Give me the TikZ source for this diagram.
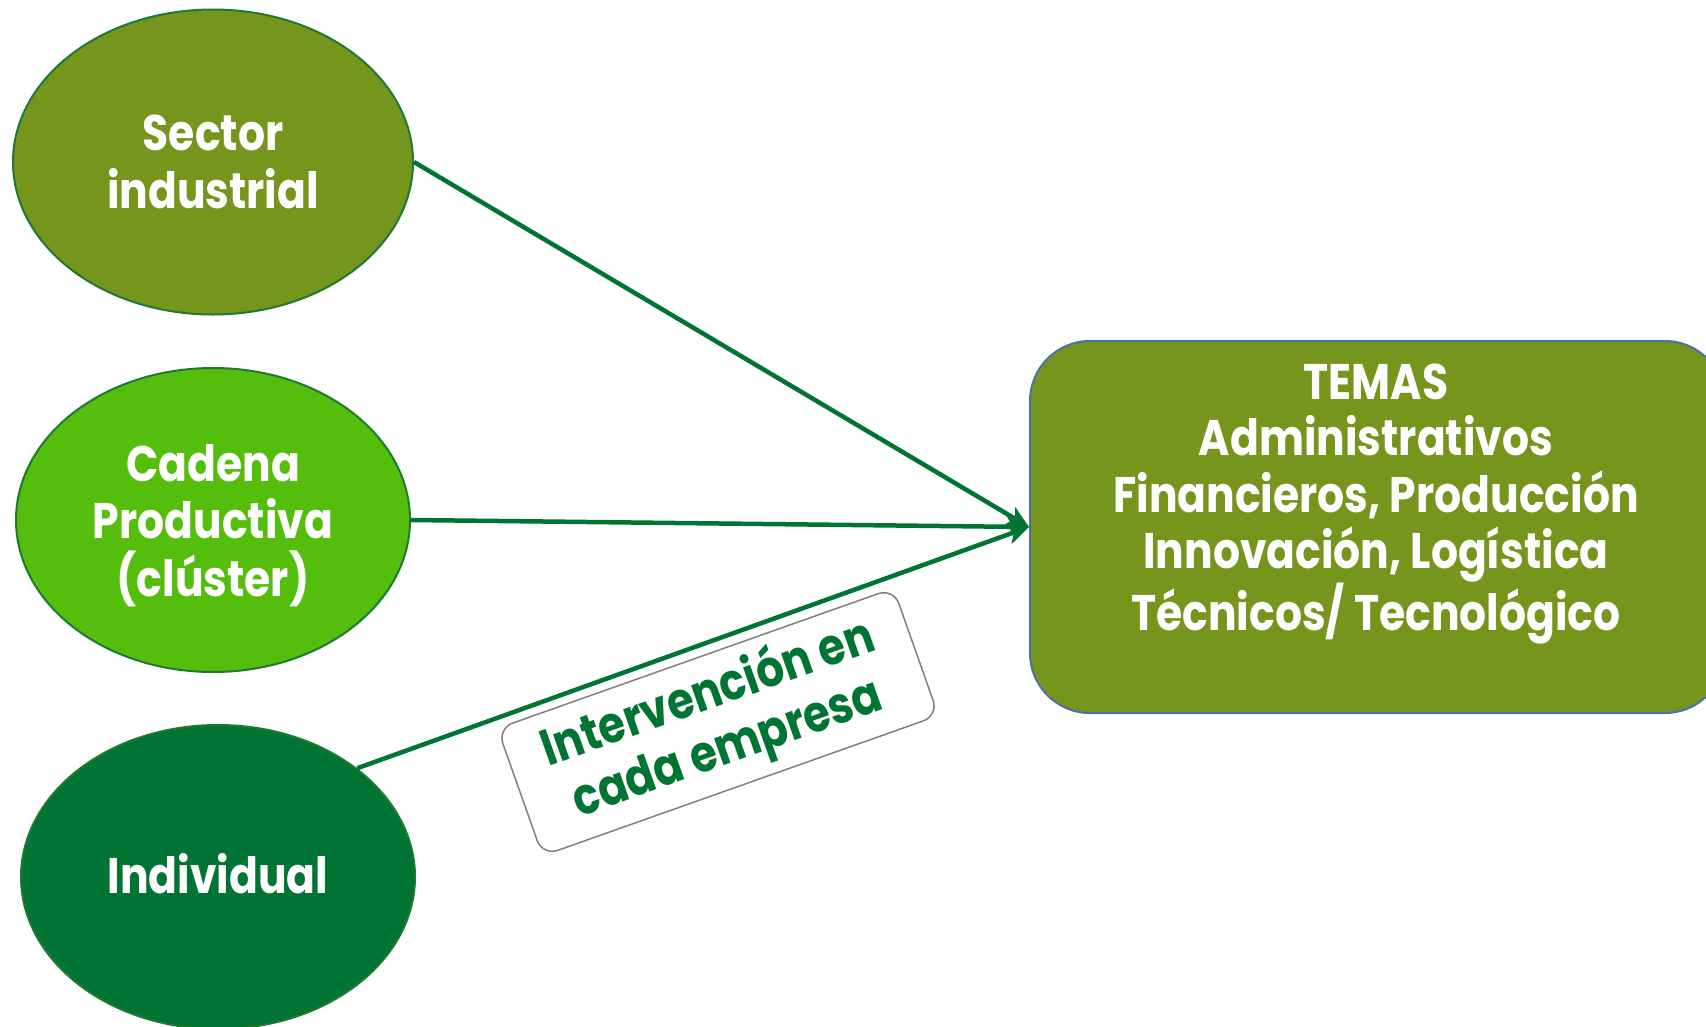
\documentclass[tikz,border=0pt]{standalone}
\usepackage{fontspec}
\setmainfont[FakeStretch=0.85]{Poppins}[BoldFont={* Bold}]
\usetikzlibrary{arrows.meta,shapes.geometric}
\definecolor{olive}{HTML}{76951D}
\definecolor{lime}{HTML}{55BE0C}
\definecolor{dgreen}{HTML}{007432}
\definecolor{edgegreen}{HTML}{1D7A30}
\definecolor{boxblue}{HTML}{4E70A8}
\tikzset{
  oval/.style={ellipse, draw=edgegreen, line width=2pt, minimum width=400, minimum height=305, inner sep=0pt},
  wtext/.style={text=white, font=\fontsize{50}{57.5}\selectfont\bfseries, align=center},
  arr/.style={draw=dgreen, line width=4.5pt, -{Stealth[length=22pt,width=20pt,inset=6pt]}},
}
\begin{document}
\begin{tikzpicture}[x=1pt,y=-1pt]
\useasboundingbox (0,0) rectangle (1706,1026);
\node[oval, fill=olive] (e1) at (213,162) {};
\node[wtext] (t1) at (213,162) {Sector\\industrial};
\node[oval, fill=lime, minimum width=394, minimum height=304] (e2) at (213,520) {};
\node[wtext] (t2) at (213,525.5) {Cadena\\Productiva\\(clúster)};
\node[oval, fill=dgreen, minimum width=394, minimum height=304] (e3) at (218,877) {};
\node[wtext] (t3) at (218,874) {Individual};
\node[draw=boxblue, line width=2pt, fill=olive, rounded corners=60pt, minimum width=695, minimum height=372] (box) at (1377.5,527) {};
\node[wtext, font=\fontsize{50}{56.5}\selectfont\bfseries] (bt) at (1376,504) {TEMAS\\Administrativos\\Financieros, Producción\\Innovación, Logística\\Técnicos/ Tecnológico};
\draw[arr] (e1.east) -- (box.west);
\draw[arr] (e2.east) -- (box.west);
\draw[arr] (e3.38) -- (box.west);
\node[draw=gray, line width=1.5pt, fill=white, rounded corners=16pt, minimum width=420, minimum height=135, rotate=19.5, text=dgreen, font=\fontsize{51}{58}\selectfont\bfseries, align=center, inner sep=2pt] (lab) at (718,722) {Intervención en\\cada empresa};
\end{tikzpicture}
\end{document}
